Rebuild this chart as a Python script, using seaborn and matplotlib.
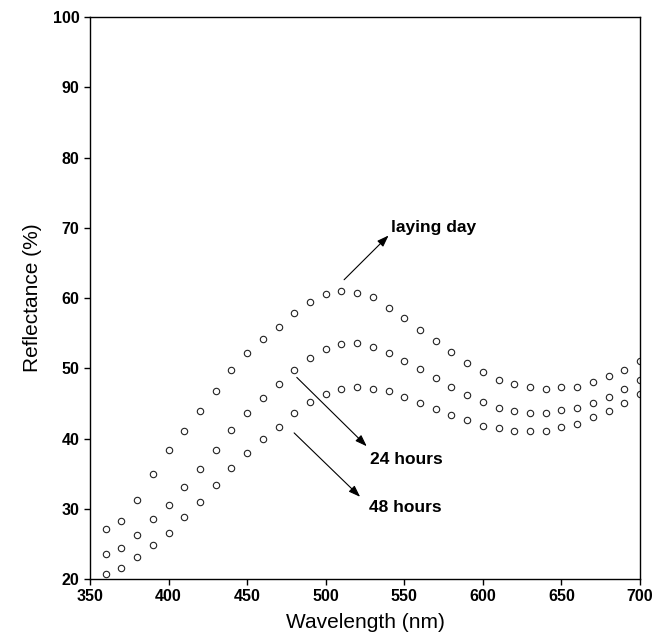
import matplotlib

matplotlib.use("Agg")
import matplotlib.pyplot as plt
import pandas as pd
import seaborn as sns

# reflectance of egg shells at wavelengths 360-700 nm, three ages
wavelength = [360, 370, 380, 390, 400, 410, 420, 430, 440, 450, 460, 470,
              480, 490, 500, 510, 520, 530, 540, 550, 560, 570, 580, 590,
              600, 610, 620, 630, 640, 650, 660, 670, 680, 690, 700]

laying_day = [27.1, 28.3, 31.2, 34.9, 38.3, 41.0, 43.9, 46.7, 49.75, 52.2,
              54.2, 55.9, 57.9, 59.5, 60.6, 61.0, 60.75, 60.1, 58.6, 57.2,
              55.4, 53.9, 52.3, 50.7, 49.5, 48.4, 47.7, 47.3, 47.1, 47.3,
              47.4, 48.0, 48.85, 49.7, 51.0]
hours_24 = [23.5, 24.4, 26.2, 28.5, 30.6, 33.1, 35.7, 38.4, 41.2, 43.7,
            45.7, 47.7, 49.75, 51.5, 52.7, 53.45, 53.6, 53.0, 52.2, 51.0,
            49.85, 48.6, 47.3, 46.15, 45.15, 44.4, 43.9, 43.7, 43.6, 44.1,
            44.3, 45.0, 45.9, 47.0, 48.3]
hours_48 = [20.7, 21.5, 23.1, 24.8, 26.6, 28.8, 31.0, 33.4, 35.8, 37.9,
            40.0, 41.7, 43.7, 45.2, 46.3, 47.1, 47.4, 47.1, 46.7, 45.9,
            45.0, 44.15, 43.3, 42.6, 41.8, 41.45, 41.1, 41.1, 41.1, 41.7,
            42.1, 43.0, 43.9, 45.0, 46.3]

series_names = ["laying day", "24 hours", "48 hours"]

# annotation: (label, arrow start, arrow tip, text position) in data units
arrows = [
    ("laying day", (511.7, 62.6), (540.0, 68.9), (541.4, 70.1)),
    ("24 hours", (481.6, 48.7), (526.1, 38.9), (528.2, 37.0)),
    ("48 hours", (479.9, 40.8), (521.9, 31.7), (527.8, 30.2)),
]

df = pd.concat([
    pd.DataFrame({"wavelength": wavelength, "reflectance": vals, "series": name})
    for name, vals in zip(series_names, [laying_day, hours_24, hours_48])
], ignore_index=True)

sns.set_style("white")
plt.rcParams["font.family"] = ["Liberation Sans", "DejaVu Sans"]
plt.rcParams["text.color"] = "black"
plt.rcParams["axes.labelcolor"] = "black"
plt.rcParams["xtick.color"] = "black"
plt.rcParams["ytick.color"] = "black"

fig = plt.figure(figsize=(6.64, 6.44), dpi=100)
ax = fig.add_axes([0.1355, 0.1009, 0.8284, 0.8727])

sns.lineplot(data=df, x="wavelength", y="reflectance", hue="series",
             palette=["#222222"] * 3, marker="o", linestyle="",
             markersize=4.6, markerfacecolor="none",
             markeredgecolor="#222222", markeredgewidth=0.8,
             legend=False, ax=ax)

for label, start, tip, txt in arrows:
    ax.annotate("", xy=tip, xytext=start,
                arrowprops=dict(arrowstyle="-|>,head_length=0.7,head_width=0.25",
                                color="black", lw=0.8, shrinkA=0, shrinkB=0))
    ax.text(txt[0], txt[1], label, fontsize=12.5, fontweight="bold",
            color="black", ha="left", va="center")

ax.set_xlim(350, 700)
ax.set_ylim(20, 100)
ax.set_xticks([350, 400, 450, 500, 550, 600, 650, 700])
ax.set_yticks([20, 30, 40, 50, 60, 70, 80, 90, 100])
ax.tick_params(axis="both", direction="out", length=4, width=1,
               labelsize=11.5, color="black", labelcolor="black",
               left=True, bottom=True)
for lab in ax.get_xticklabels() + ax.get_yticklabels():
    lab.set_fontweight("bold")
for sp in ax.spines.values():
    sp.set_color("black")
    sp.set_linewidth(1)

ax.set_xlabel("Wavelength (nm)", fontsize=15, labelpad=6, color="black")
ax.set_ylabel("Reflectance (%)", fontsize=15, labelpad=8, color="black")

fig.savefig("out.png", dpi=100)
